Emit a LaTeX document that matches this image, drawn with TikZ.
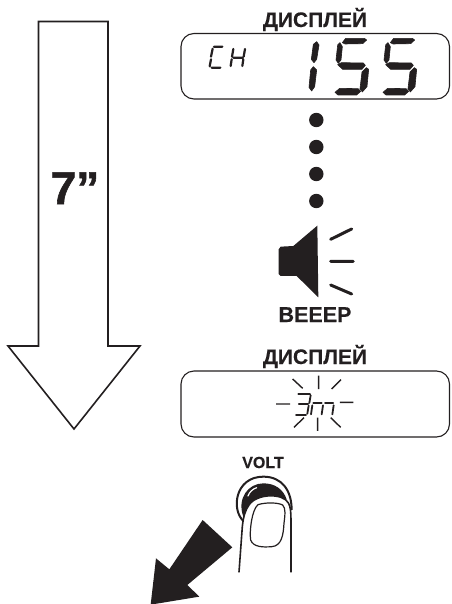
\documentclass[tikz,border=0pt]{standalone}
\usepackage{fontspec}
\setmainfont{Liberation Sans}
\newfontfamily\heavyfont[FakeBold=1.2]{Liberation Sans Bold}
\newfontfamily\labelfont[FakeBold=0.25]{Liberation Sans Bold}
\definecolor{ink}{HTML}{231F20}
\tikzset{
  x=1pt,y=-1pt,
  title/.style={anchor=base,inner sep=0pt,font=\fontsize{21}{22}\labelfont,text=ink},
  lcdbox/.style={draw=ink,line width=1.1pt,rounded corners=13pt},
  seg/.style={fill=ink,draw=ink,line width=0.6pt,line join=round},
  thin seg/.style={draw=ink,line width=2.2pt,line cap=round},
  ray/.style={draw=ink,line width=1.4pt},
  soundline/.style={draw=ink,line width=3pt,line cap=round},
  fingerline/.style={draw=ink,line width=1.6pt}
}
\newcommand{\digitfive}{%
  \fill[seg] (127,38)--(137,25)--(193,25)--(200,30)--(188,41)--(135,42)--cycle;
  \fill[seg] (120,38)--(127,50)--(123,90)--(115,100)--(108,90)--(113,45)--cycle;
  \fill[seg] (113,104)--(124,98)--(190,99)--(196,106)--(186,118)--(128,118)--cycle;
  \fill[seg] (199,113)--(206,118)--(201,170)--(187,186)--(180,176)--(186,126)--cycle;
  \fill[seg] (105,187)--(119,175)--(174,176)--(182,184)--(170,195)--(114,195)--cycle;
}
\begin{document}
\begin{tikzpicture}
\useasboundingbox (0,0) rectangle (451,604);
% big outline arrow
\draw[ink,line width=1.6pt,miter limit=10] (38.5,21.5)--(108,21.5)--(108,346)--(140,346)--(74,429)--(8,346)--(38.5,346)--cycle;
\node[anchor=base west,inner sep=0pt,font=\fontsize{46}{48}\heavyfont,text=ink] (seven) at (50.5,204) {7”};
% first display
\node[title] (t1) at (315,27) {ДИСПЛЕЙ};
\draw[lcdbox] (181,33.5) rectangle (449.5,99);
\begin{scope}[shift={(200,40)},scale=0.3333]
  \draw[thin seg] (42,20)--(67,20) (38,26)--(33,50) (33,58)--(29,79) (35,83)--(61,83);
  \draw[thin seg] (100,27)--(96,50) (95,58)--(92,78) (100,53)--(128,53) (135,27)--(131,50) (130,58)--(127,78);
\end{scope}
\begin{scope}[shift={(300,30)},scale=0.3333]
  \fill[seg] (50,35)--(57,45)--(50,88)--(42,98)--(34,88)--(40,43)--cycle;
  \fill[seg] (40,110)--(50,120)--(44,170)--(35,183)--(27,172)--(32,120)--cycle;
  \digitfive
\end{scope}
\begin{scope}[shift={(348,30)},scale=0.3333]
  \digitfive
\end{scope}
% dots
\foreach \n/\y in {a/120,b/147,c/174,d/201}
  \fill[ink] (316.3,\y) circle[radius=7.2];
% speaker
\begin{scope}[shift={(230,210)},scale=0.3333]
  \fill[ink] (146,118)--(152,110)--(190,108)--(262,47)--(265,262)--(200,198)--(152,198)--(146,192)--cycle;
  \draw[soundline] (302,88)--(365,57) (302,154)--(370,154) (302,225)--(365,252);
\end{scope}
\node[title,font=\fontsize{21.5}{22}\labelfont] (beep) at (315,322) {BEEEP};
% second display
\node[title] (t2) at (315,364) {ДИСПЛЕЙ};
\draw[lcdbox] (181,371) rectangle (449.5,437);
\begin{scope}[shift={(270,375)},scale=0.3333]
  \draw[ray] (146,2)--(146,42) (68,12)--(98,40) (213,14)--(185,42) (18,87)--(60,87) (210,82)--(250,82) (72,157)--(102,128) (143,128)--(143,168) (212,157)--(182,128);
  \draw[thin seg,line width=1.8pt] (85,57)--(120,57) (122,61)--(118,84) (86,87)--(114,87) (116,92)--(112,116) (78,120)--(108,120);
  \draw[thin seg,line width=1.8pt] (123,118)--(127,91) (130,84)--(155,84) (165,84)--(190,84) (155,118)--(159,91) (187,118)--(191,91);
\end{scope}
% volt button and finger
\node[anchor=base,inner sep=0pt,font=\fontsize{16}{17}\labelfont,text=ink] (volt) at (263,468) {VOLT};
\begin{scope}[shift={(100,460)},scale=0.3333]
  \draw[ink,line width=2pt] (432,185) .. controls (392,150) and (405,50) .. (490,50) .. controls (545,50) and (575,90) .. (575,150);
  \fill[ink] (430,170) .. controls (410,115) and (445,70) .. (490,70) .. controls (525,70) and (550,88) .. (560,118) -- (450,140) -- cycle;
  \draw[white,line width=1.2pt,line cap=round] (444,108) .. controls (448,96) and (458,87) .. (470,83);
  \draw[fingerline,fill=white] (417,337) -- (427,200) .. controls (430,170) and (436,150) .. (447,135) .. controls (470,100) and (550,98) .. (566,130) .. controls (572,142) and (573,160) .. (573,180) -- (573,337);
  \draw[ink,line width=1.2pt] (474,134) .. controls (500,126) and (535,128) .. (548,135) .. controls (558,145) and (555,165) .. (552,190) .. controls (550,225) and (545,258) .. (515,260) .. controls (490,262) and (460,262) .. (452,240) .. controls (448,215) and (455,150) .. (474,134) -- cycle;
  \fill[ink] (308,180)--(397,262)--(262,375)--(298,410)--(152,434)--(168,295)--(208,328)--cycle;
\end{scope}
\end{tikzpicture}
\end{document}
